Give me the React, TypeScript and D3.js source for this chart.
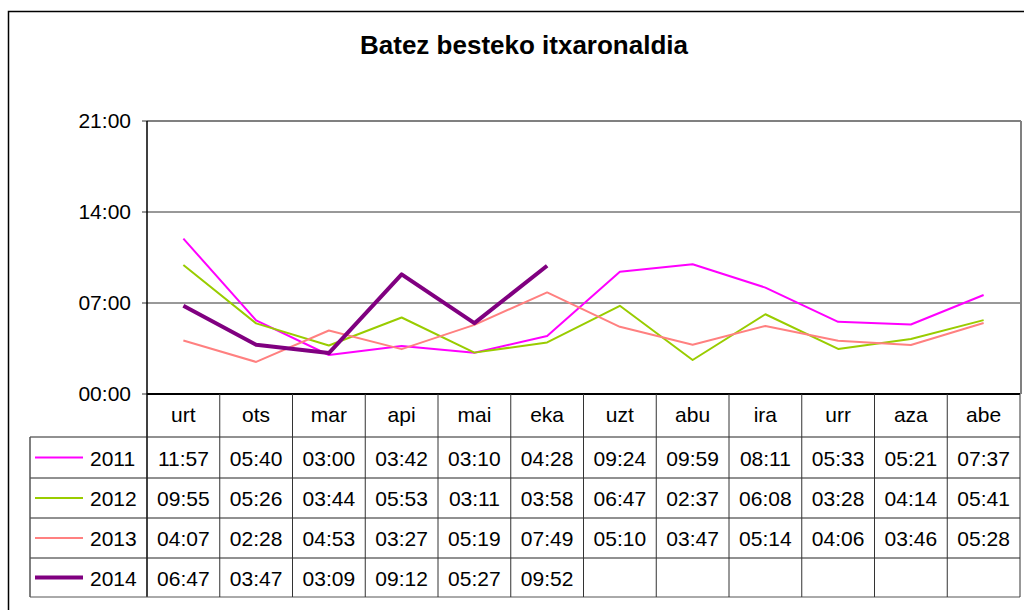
import React from "react";
import * as d3 from "d3";

const months = ["urt", "ots", "mar", "api", "mai", "eka", "uzt", "abu", "ira", "urr", "aza", "abe"];
const years = ["2011", "2012", "2013", "2014"];
const values2011 = ["11:57", "05:40", "03:00", "03:42", "03:10", "04:28", "09:24", "09:59", "08:11", "05:33", "05:21", "07:37"];
const values2012 = ["09:55", "05:26", "03:44", "05:53", "03:11", "03:58", "06:47", "02:37", "06:08", "03:28", "04:14", "05:41"];
const values2013 = ["04:07", "02:28", "04:53", "03:27", "05:19", "07:49", "05:10", "03:47", "05:14", "04:06", "03:46", "05:28"];
const values2014 = ["06:47", "03:47", "03:09", "09:12", "05:27", "09:52"];
const yTicks = ["00:00", "07:00", "14:00", "21:00"];

const seriesValues = [values2011, values2012, values2013, values2014];
const colors = ["#ff00ff", "#99cc00", "#ff8080", "#800080"];
const widths = [2, 2, 2, 4];

const toHours = (s: string) => {
  const [h, m] = s.split(":").map(Number);
  return h + m / 60;
};

const W = 1024;
const H = 610;
const left = 147;
const right = 1020;
const top = 121;
const bottom = 394;
const tableLeft = 30;
const rowBounds = [394, 437, 478, 518, 558, 597];
const font = "Liberation Sans, Arial, sans-serif";
const fs = 21;

export default function App() {
  const x = d3.scaleBand<string>().domain(months).range([left, right]);
  const y = d3.scaleLinear().domain([0, 21]).range([bottom, top]);
  const line = d3
    .line<string>()
    .x((_, i) => (x(months[i]) as number) + x.bandwidth() / 2)
    .y((d) => y(toHours(d)));

  return (
    <svg
      width={W}
      height={H}
      style={{ position: "absolute", left: 0, top: 0 }}
      fontFamily={font}
    >
      <rect x={0} y={0} width={W} height={H} fill="#fff" />
      <rect x={8.5} y={11.5} width={W + 20} height={H + 20} fill="none" stroke="#000" strokeWidth={1.5} />
      <text x={524} y={54} textAnchor="middle" fontSize={26} fontWeight="bold">
        Batez besteko itxaronaldia
      </text>

      {/* plot area */}
      <line x1={left} x2={right + 1} y1={top} y2={top} stroke="#808080" strokeWidth={2} />
      <line x1={right + 1} x2={right + 1} y1={top} y2={bottom} stroke="#808080" strokeWidth={2} />
      {yTicks.map((t) => {
        const yy = y(toHours(t));
        return (
          <g key={t}>
            {t !== "00:00" && t !== "21:00" && (
              <line x1={left} x2={right} y1={yy} y2={yy} stroke="#333" strokeWidth={1} />
            )}
            <line x1={left - 5} x2={left} y1={yy} y2={yy} stroke="#333" strokeWidth={1} />
            <text x={left - 16} y={yy + 7} textAnchor="end" fontSize={fs}>
              {t}
            </text>
          </g>
        );
      })}
      <line x1={left} x2={left} y1={top} y2={rowBounds[5]} stroke="#000" strokeWidth={1.5} />

      {seriesValues.map((vals, i) => (
        <path
          key={years[i]}
          d={line(vals) as string}
          fill="none"
          stroke={colors[i]}
          strokeWidth={widths[i]}
          strokeLinejoin="round"
        />
      ))}
      <line x1={left} x2={right} y1={bottom} y2={bottom} stroke="#000" strokeWidth={2} />

      {/* data table */}
      {rowBounds.slice(1).map((yy, i) => (
        <line
          key={"h" + i}
          x1={tableLeft}
          x2={right}
          y1={yy}
          y2={yy}
          stroke={i === 4 ? "#555" : "#222"}
          strokeWidth={1}
        />
      ))}
      <line x1={tableLeft} x2={tableLeft} y1={rowBounds[1]} y2={rowBounds[5]} stroke="#555" strokeWidth={1.5} />
      {months.map((m) => {
        const xx = (x(m) as number) + x.bandwidth();
        return (
          <line key={"v" + m} x1={xx} x2={xx} y1={bottom} y2={rowBounds[5]} stroke="#333" strokeWidth={1} />
        );
      })}
      {months.map((m) => (
        <text
          key={"m" + m}
          x={(x(m) as number) + x.bandwidth() / 2}
          y={(rowBounds[0] + rowBounds[1]) / 2 + 6}
          textAnchor="middle"
          fontSize={fs}
        >
          {m}
        </text>
      ))}
      {years.map((yr, r) => {
        const cy = (rowBounds[r + 1] + rowBounds[r + 2]) / 2;
        return (
          <g key={yr}>
            <line x1={35} x2={83} y1={cy} y2={cy} stroke={colors[r]} strokeWidth={widths[r]} />
            <text x={90} y={cy + 8} fontSize={fs}>
              {yr}
            </text>
            {seriesValues[r].map((v, c) => (
              <text
                key={c}
                x={(x(months[c]) as number) + x.bandwidth() / 2}
                y={cy + 8}
                textAnchor="middle"
                fontSize={fs}
              >
                {v}
              </text>
            ))}
          </g>
        );
      })}
    </svg>
  );
}
